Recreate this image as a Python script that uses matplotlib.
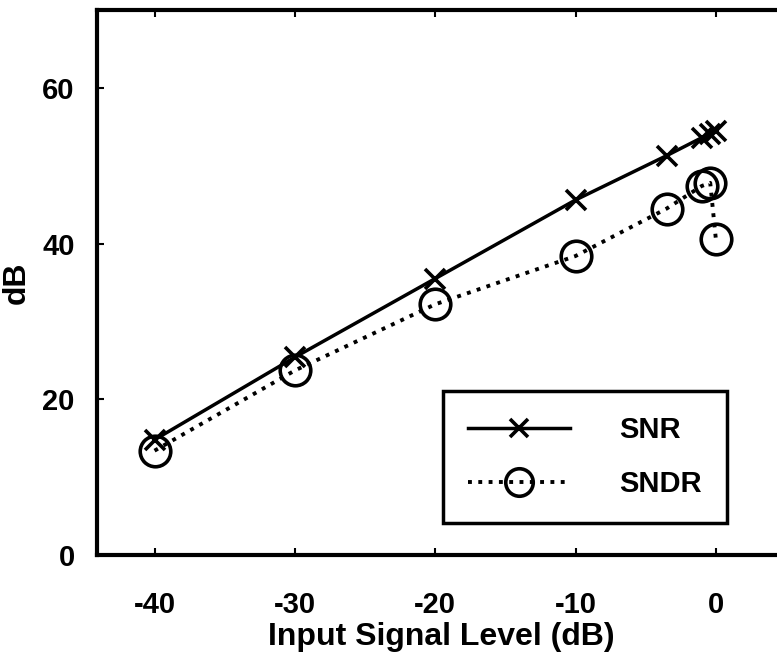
import matplotlib
matplotlib.use('Agg')
import matplotlib.pyplot as plt

# input level (dB) and measured results (dB)
level = [-40, -30, -20, -10, -3.5, -1, -0.4, 0]
snr = [14.8, 25.4, 35.5, 45.6, 51.3, 53.6, 54.1, 54.5]
sndr = [13.4, 23.7, 32.2, 38.4, 44.5, 47.4, 47.8, 40.6]
x_ticks = [-40, -30, -20, -10, 0]
y_ticks = [0, 20, 40, 60]

plt.rcParams['font.family'] = ['Liberation Sans', 'DejaVu Sans']
plt.rcParams['font.weight'] = 'bold'
plt.rcParams['axes.unicode_minus'] = False

fig = plt.figure(figsize=(7.77, 6.60), dpi=100)
ax = fig.add_axes([97 / 777, 105 / 660, 689 / 777, 545 / 660])

ax.plot(level, snr, color='black', linestyle='-', linewidth=2.5,
        marker='x', markersize=14, markeredgewidth=2.6, label='SNR')
ax.plot(level, sndr, color='black', linestyle=':', linewidth=2.8,
        marker='o', markersize=22, markerfacecolor='none',
        markeredgewidth=2.6, label='SNDR')

ax.set_xlim(-44.1, 5)
ax.set_ylim(0, 70)
ax.set_xticks(x_ticks)
ax.set_yticks(y_ticks)
ax.tick_params(direction='in', top=True, right=True, length=5, width=1.5,
               labelsize=21)
ax.tick_params(axis='x', pad=26)
ax.tick_params(axis='y', pad=16)
for lab in ax.get_xticklabels() + ax.get_yticklabels():
    lab.set_fontweight('bold')
for s in ax.spines.values():
    s.set_linewidth(3)

ax.set_xlabel('Input Signal Level (dB)', fontsize=23, fontweight='bold', labelpad=2)
ax.set_ylabel('dB', fontsize=23, fontweight='bold')
ax.yaxis.set_label_coords(-0.095, 0.5)

leg = ax.legend(loc='lower left', bbox_to_anchor=(0.502, 0.059), borderaxespad=0,
                fancybox=False, edgecolor='black', framealpha=1,
                prop={'size': 21, 'weight': 'bold'}, handlelength=3.5,
                handletextpad=1.7, labelspacing=0.9, borderpad=0.85, markerscale=0.9)
leg.get_frame().set_linewidth(2.5)

plt.savefig('out.png', dpi=100)
